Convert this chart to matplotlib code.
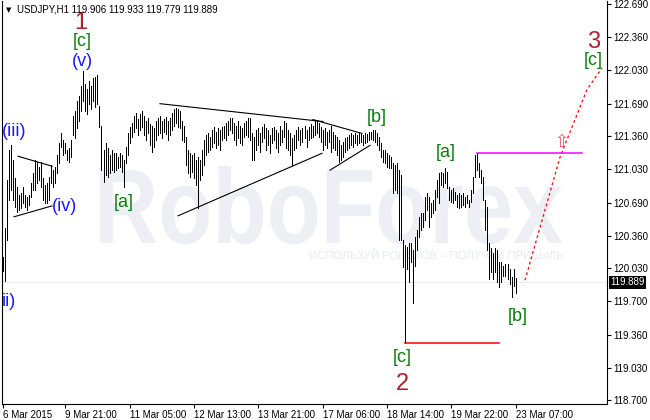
import numpy as np
import matplotlib
matplotlib.use("Agg")
import matplotlib.pyplot as plt
from matplotlib.textpath import TextPath
from matplotlib.font_manager import FontProperties
from matplotlib.patches import PathPatch
from matplotlib.transforms import Affine2D, IdentityTransform

plt.rcParams['font.family'] = ['Liberation Sans', 'DejaVu Sans']

W, H = 650, 420  # output size in pixels

# %% data: USDJPY H1 bars (high / low)
high = [
    120.14, 120.44, 120.92, 121.22, 121.27, 121.12, 120.94, 120.85, 120.77, 120.79,
    120.85, 120.77, 120.75, 120.77, 120.89, 120.99, 121.12, 121.10, 121.05, 121.10,
    120.94, 120.87, 120.89, 120.95, 121.07, 121.02, 121.05, 121.17, 121.29, 121.39,
    121.32, 121.29, 121.22, 121.24, 121.32, 121.57, 121.62, 121.72, 121.77, 121.87,
    122.02, 121.89, 121.84, 121.92, 121.87, 121.95, 121.96, 121.98, 121.67, 121.47,
    121.22, 121.29, 121.24, 121.17, 121.22, 121.19, 121.19, 121.15, 121.19, 121.17,
    121.12, 121.25, 121.39, 121.45, 121.50, 121.57, 121.60, 121.54, 121.59, 121.62,
    121.57, 121.52, 121.55, 121.49, 121.47, 121.44, 121.52, 121.55, 121.57, 121.52,
    121.54, 121.56, 121.52, 121.55, 121.60, 121.64, 121.65, 121.64, 121.62, 121.52,
    121.47, 121.35, 121.22, 121.19, 121.17, 121.19, 121.12, 121.15, 121.12, 121.22,
    121.32, 121.37, 121.39, 121.35, 121.42, 121.45, 121.40, 121.44, 121.42, 121.45,
    121.47, 121.50, 121.52, 121.55, 121.55, 121.50, 121.47, 121.52, 121.47, 121.44,
    121.50, 121.52, 121.55, 121.55, 121.39, 121.35, 121.42, 121.44, 121.39, 121.45,
    121.49, 121.44, 121.42, 121.37, 121.44, 121.46, 121.42, 121.39, 121.47, 121.42,
    121.52, 121.50, 121.42, 121.39, 121.34, 121.37, 121.42, 121.45, 121.42, 121.44,
    121.47, 121.42, 121.45, 121.49, 121.47, 121.52, 121.52, 121.50, 121.45, 121.42,
    121.44, 121.40, 121.42, 121.47, 121.40, 121.37, 121.35, 121.32, 121.27, 121.30,
    121.34, 121.35, 121.37, 121.39, 121.37, 121.39, 121.37, 121.39, 121.38, 121.37,
    121.39, 121.38, 121.40, 121.40, 121.42, 121.42, 121.39, 121.35, 121.29, 121.22,
    121.22, 121.19, 121.17, 121.15, 121.09, 121.07, 121.09, 121.02, 120.97, 120.32,
    120.27, 120.25, 120.29, 120.29, 120.22, 120.35, 120.42, 120.55, 120.59, 120.59,
    120.75, 120.79, 120.75, 120.69, 120.72, 120.82, 120.92, 120.99, 121.00, 120.99,
    121.04, 121.00, 120.85, 120.82, 120.84, 120.80, 120.77, 120.79, 120.77, 120.79,
    120.75, 120.77, 120.72, 120.82, 120.95, 121.17, 121.19, 121.09, 121.02, 120.95,
    120.72, 120.65, 120.29, 120.24, 120.19, 120.24, 120.22, 120.09, 120.09, 120.05,
    120.07, 120.07, 120.02, 119.94, 120.02, 119.933]
low = [
    120.00, 119.90, 120.32, 120.72, 120.82, 120.72, 120.65, 120.60, 120.62, 120.64,
    120.69, 120.65, 120.62, 120.67, 120.75, 120.82, 120.82, 120.89, 120.92, 120.85,
    120.72, 120.69, 120.69, 120.72, 120.89, 120.85, 120.89, 120.99, 121.09, 121.25,
    121.17, 121.19, 121.12, 121.10, 121.15, 121.37, 121.34, 121.44, 121.52, 121.62,
    121.72, 121.62, 121.59, 121.69, 121.64, 121.72, 121.66, 121.69, 121.45, 121.02,
    120.90, 120.97, 120.95, 120.99, 121.02, 121.00, 121.02, 121.04, 121.05, 121.00,
    120.85, 121.09, 121.17, 121.29, 121.35, 121.40, 121.44, 121.37, 121.42, 121.45,
    121.37, 121.32, 121.39, 121.27, 121.20, 121.25, 121.32, 121.37, 121.39, 121.34,
    121.40, 121.38, 121.32, 121.37, 121.42, 121.47, 121.50, 121.45, 121.44, 121.32,
    121.30, 121.07, 120.99, 120.95, 121.00, 120.94, 120.87, 120.64, 120.92, 120.97,
    121.07, 121.17, 121.20, 121.22, 121.25, 121.29, 121.24, 121.27, 121.22, 121.32,
    121.34, 121.32, 121.37, 121.42, 121.39, 121.32, 121.27, 121.34, 121.29, 121.27,
    121.35, 121.37, 121.35, 121.32, 121.12, 121.12, 121.22, 121.27, 121.20, 121.30,
    121.34, 121.22, 121.27, 121.19, 121.29, 121.32, 121.24, 121.20, 121.27, 121.30,
    121.35, 121.24, 121.22, 121.17, 121.07, 121.22, 121.24, 121.32, 121.27, 121.30,
    121.34, 121.25, 121.32, 121.34, 121.35, 121.37, 121.39, 121.35, 121.30, 121.22,
    121.27, 121.24, 121.30, 121.20, 121.24, 121.22, 121.17, 121.10, 121.12, 121.15,
    121.20, 121.22, 121.24, 121.27, 121.25, 121.29, 121.27, 121.29, 121.30, 121.27,
    121.29, 121.30, 121.32, 121.33, 121.32, 121.30, 121.27, 121.22, 121.15, 121.10,
    121.09, 121.05, 121.04, 121.04, 120.79, 120.82, 120.79, 120.32, 120.32, 120.04,
    119.28, 120.02, 119.89, 120.09, 119.68, 120.05, 120.22, 120.35, 120.42, 120.45,
    120.52, 120.62, 120.45, 120.55, 120.59, 120.62, 120.75, 120.69, 120.87, 120.85,
    120.89, 120.84, 120.72, 120.70, 120.69, 120.72, 120.65, 120.64, 120.65, 120.67,
    120.65, 120.69, 120.65, 120.70, 120.79, 120.95, 121.02, 120.95, 120.89, 120.72,
    120.42, 120.22, 119.92, 119.99, 119.92, 119.99, 119.89, 119.84, 119.89, 119.95,
    119.95, 119.92, 119.87, 119.74, 119.85, 119.779]

last_ohlc = [119.906, 119.933, 119.779, 119.889]
symbol = "USDJPY,H1"

# axis ticks
y_ticks = [122.690, 122.360, 122.030, 121.690, 121.360, 121.030, 120.690,
           120.360, 120.030, 119.700, 119.360, 119.030, 118.700]
x_tick_bars = [0, 31, 63, 95, 127, 159, 191, 223, 255]
x_tick_labels = ["6 Mar 2015", "9 Mar 21:00", "11 Mar 05:00", "12 Mar 13:00",
                 "13 Mar 21:00", "17 Mar 06:00", "18 Mar 14:00", "19 Mar 22:00",
                 "23 Mar 07:00"]

# drawn objects (bar index, price)
tri_iv_up = ([7.5, 24.4], [121.16, 121.06])
tri_iv_dn = ([5.5, 24.4], [120.55, 120.66])
tri_big_up = ([78.1, 159.2], [121.69, 121.51])
tri_big_dn = ([87.1, 158.7], [120.56, 121.19])
tri_small_up = ([154.2, 178.6], [121.53, 121.39])
tri_small_dn = ([162.7, 182.6], [121.02, 121.27])
red_level = ([200, 247], 119.28)
mag_level = ([236, 288], 121.19)
forecast_x = [259.7, 277.1, 290.5, 298.0]
forecast_y = [119.91, 121.15, 121.83, 122.05]

# wave labels: text, bar index, price, colour, size
c_red, c_green, c_blue = '#b0202a', '#0a7d0a', '#1a1aff'
wave_labels = [
    ("1", 38.8, 122.50, c_red, 17), ("[c]", 39.3, 122.32, c_green, 13),
    ("(v)", 39.3, 122.12, c_blue, 13), ("(iv)", 30.8, 120.65, c_blue, 13),
    ("[a]", 60.2, 120.69, c_green, 13), ("[b]", 186.0, 121.55, c_green, 13),
    ("[a]", 220.4, 121.20, c_green, 13), ("[b]", 256.2, 119.54, c_green, 13),
    ("[c]", 198.5, 119.13, c_green, 13), ("2", 198.5, 118.86, c_red, 17),
    ("3", 294.0, 122.31, c_red, 17), ("[c]", 293.5, 122.13, c_green, 13),
]

# %% figure
fig = plt.figure(figsize=(W / 100, H / 100), dpi=100)
ax = fig.add_axes([2 / W, (H - 404) / H, 605 / W, 403 / H])
ax.set_xlim(-0.5, 300.5)
ax.set_ylim(118.663, 122.725)


def pix_text(s, x0, x1, y_base, cap, color, weight='bold'):
    # text stretched to a box given in picture pixels
    fp = FontProperties(family='Liberation Sans', weight=weight)
    tp = TextPath((0, 0), s, size=100, prop=fp)
    bb = tp.get_extents()
    hb = TextPath((0, 0), 'H', size=100, prop=fp).get_extents()
    tr = Affine2D().translate(-bb.x0, 0).scale((x1 - x0) / bb.width, cap / hb.height)
    tr = tr.translate(x0, H - y_base)
    ax.add_patch(PathPatch(tr.transform_path(tp), facecolor=color, edgecolor='none',
                           transform=IdentityTransform(), zorder=0))


# watermark
pix_text("RoboForex", 100, 562, 243, 73, '#edeff5')
pix_text("ИСПОЛЬЗУЙ РОБОТОВ – ПОЛУЧАЙ ПРИБЫЛЬ", 310, 563, 259, 8, '#e8ebf2', weight='normal')

# bid line
ax.axhline(last_ohlc[3], color='#ececec', lw=0.7, zorder=1)

idx = np.arange(len(high))
ax.vlines(idx, low, high, colors='black', linewidth=0.55, antialiased=False, zorder=3)

for xs, ys in [tri_iv_up, tri_iv_dn, tri_big_up, tri_big_dn, tri_small_up, tri_small_dn]:
    ax.plot(xs, ys, color='black', lw=0.8, zorder=4)
ax.plot(red_level[0], [red_level[1]] * 2, color='#ff0000', lw=1.1, zorder=6)
ax.plot(mag_level[0], [mag_level[1]] * 2, color='#ff00ff', lw=1.1, zorder=6)
ax.plot(forecast_x, forecast_y, color='#ff0000', lw=0.9, ls=(0, (2.2, 2.2)), zorder=4)
ax.text(277.5, 121.30, '⇧', color='#ff4d6d', fontsize=12, family='DejaVu Sans',
        ha='center', va='center', zorder=5)

for s, xi, yv, col, fs in wave_labels:
    ax.text(xi, yv, s, color=col, fontsize=fs, ha='center', va='center', zorder=5)
ax.text(-0.5, 121.41, "(iii)", color=c_blue, fontsize=13, ha='left', va='center', zorder=5)
ax.text(-0.5, 119.70, "ii)", color=c_blue, fontsize=13, ha='left', va='center', zorder=5)

# header
fig.text(6 / W, 1 - 10 / H, '▼', fontsize=5, family='DejaVu Sans', va='center')
fig.text(17 / W, 1 - 9.5 / H, "%s %.3f %.3f %.3f %.3f" % (symbol, *last_ohlc),
         fontsize=7, va='center')

# axes styling
for sp in ['left', 'bottom', 'right']:
    ax.spines[sp].set_linewidth(0.8)
ax.spines['top'].set_visible(False)
ax.yaxis.tick_right()
ax.set_yticks(y_ticks)
ax.set_yticklabels(["%.3f" % v for v in y_ticks])
ax.tick_params(axis='y', direction='out', length=3, width=0.8, pad=1.5, labelsize=7)
ax.set_xticks(x_tick_bars)
ax.set_xticklabels(x_tick_labels)
for lb in ax.get_xticklabels():
    lb.set_ha('left')
ax.tick_params(axis='x', direction='out', length=3, width=0.8, pad=1, labelsize=7)

ax.annotate("%.3f" % last_ohlc[3], xy=(1.006, last_ohlc[3]), xycoords=('axes fraction', 'data'),
            color='white', fontsize=7, ha='left', va='center', annotation_clip=False,
            bbox=dict(boxstyle='square,pad=0.12', fc='black', ec='none'))

fig.savefig("out.png", dpi=100)
